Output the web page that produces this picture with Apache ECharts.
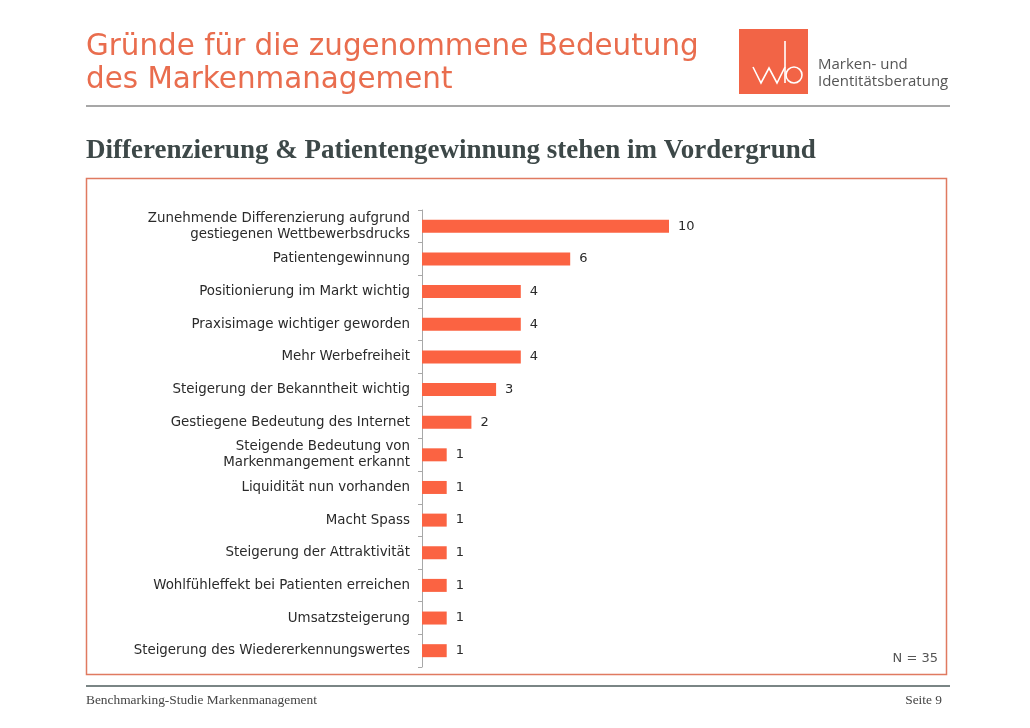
<!DOCTYPE html>
<html>
<head>
<meta charset="utf-8">
<script src="https://cdn.jsdelivr.net/npm/echarts@6/dist/echarts.min.js"></script>
<style>
html,body{margin:0;padding:0;background:#fff;}
#c{width:1030px;height:728px;}
</style>
</head>
<body>
<div id="c"></div>
<script>
const categories = [
  'Zunehmende Differenzierung aufgrund\ngestiegenen Wettbewerbsdrucks',
  'Patientengewinnung',
  'Positionierung im Markt wichtig',
  'Praxisimage wichtiger geworden',
  'Mehr Werbefreiheit',
  'Steigerung der Bekanntheit wichtig',
  'Gestiegene Bedeutung des Internet',
  'Steigende Bedeutung von\nMarkenmangement erkannt',
  'Liquidität nun vorhanden',
  'Macht Spass',
  'Steigerung der Attraktivität',
  'Wohlfühleffekt bei Patienten erreichen',
  'Umsatzsteigerung',
  'Steigerung des Wiedererkennungswertes'
];
const values = [10, 6, 4, 4, 4, 3, 2, 1, 1, 1, 1, 1, 1, 1];

const orange = '#e96d4e';
const chart = echarts.init(document.getElementById('c'));
chart.setOption({
  animation: false,
  backgroundColor: '#fff',
  grid: { left: 422, right: 361, top: 210, bottom: 61, containLabel: false },
  xAxis: { type: 'value', min: 0, max: 10, show: false },
  yAxis: {
    type: 'category', data: categories, inverse: true,
    axisLine: { show: true, lineStyle: { color: '#a8a8a8', width: 1 } },
    axisTick: { show: true, length: 4, lineStyle: { color: '#a8a8a8' } },
    axisLabel: { margin: 12, fontFamily: 'DejaVu Sans', fontSize: 13.4, color: '#2a2a2a', lineHeight: 16 }
  },
  series: [{
    type: 'bar', data: values, barWidth: 13,
    itemStyle: { color: '#fb6342' },
    label: { show: true, position: 'right', distance: 9, fontFamily: 'DejaVu Sans', fontSize: 13, color: '#2a2a2a' }
  }],
  graphic: [
    { type: 'text', left: 86, top: 31, style: { text: 'Gründe für die zugenommene Bedeutung\ndes Markenmanagement', fontFamily: 'DejaVu Sans', fontSize: 29.4, lineHeight: 33, fill: orange } },
    { type: 'rect', shape: { x: 739, y: 29, width: 69, height: 65 }, style: { fill: '#f26446' } },
    { type: 'polyline', shape: { points: [[753,67],[761,83],[769,68],[777,83],[785,67]] }, style: { stroke: '#fff', lineWidth: 1.6, fill: null } },
    { type: 'line', shape: { x1: 785, y1: 41, x2: 785, y2: 83 }, style: { stroke: '#fff', lineWidth: 1.6 } },
    { type: 'circle', shape: { cx: 794, cy: 75, r: 8 }, style: { stroke: '#fff', lineWidth: 1.6, fill: null } },
    { type: 'text', left: 818, top: 56, style: { text: 'Marken- und\nIdentitätsberatung', fontFamily: 'Open Sans', fontSize: 15, lineHeight: 17, fill: '#555' } },
    { type: 'line', shape: { x1: 86, y1: 106, x2: 950, y2: 106 }, style: { stroke: '#8a8a8a', lineWidth: 1.5 } },
    { type: 'text', left: 86, top: 138, style: { text: 'Differenzierung & Patientengewinnung stehen im Vordergrund', fontFamily: 'Liberation Serif', fontWeight: 'bold', fontSize: 27, fill: '#3d4848' } },
    { type: 'rect', shape: { x: 86.5, y: 178.5, width: 860, height: 496 }, style: { fill: null, stroke: '#e07a60', lineWidth: 1.5 } },
    { type: 'text', right: 92, top: 652, style: { text: 'N = 35', fontFamily: 'DejaVu Sans', fontSize: 13, fill: '#555' } },
    { type: 'line', shape: { x1: 86, y1: 686, x2: 950, y2: 686 }, style: { stroke: '#7a8585', lineWidth: 2 } },
    { type: 'text', left: 86, top: 694, style: { text: 'Benchmarking-Studie Markenmanagement', fontFamily: 'Liberation Serif', fontSize: 13.4, fill: '#444' } },
    { type: 'text', right: 88, top: 694, style: { text: 'Seite 9', fontFamily: 'Liberation Serif', fontSize: 13.4, fill: '#444' } }
  ]
});
</script>
</body>
</html>
